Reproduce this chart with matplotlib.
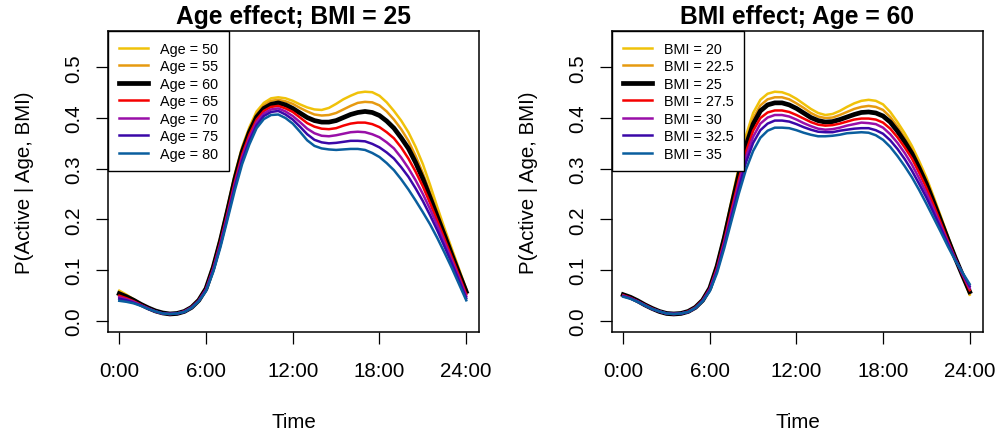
import matplotlib
matplotlib.use("Agg")
import matplotlib.pyplot as plt
import numpy as np

# ---- data, every half hour from 0:00 to 24:00 ----
hours = np.arange(0, 24.5, 0.5)

age_labels = ["Age = 50", "Age = 55", "Age = 60", "Age = 65", "Age = 70", "Age = 75", "Age = 80"]
age_50 = [0.059, 0.051, 0.042, 0.033, 0.025, 0.019, 0.015, 0.013, 0.014, 0.018, 0.027, 0.042,
          0.066, 0.110, 0.165, 0.226, 0.290, 0.343, 0.382, 0.413,
          0.430, 0.439, 0.441, 0.439, 0.434, 0.427, 0.421, 0.417, 0.416, 0.420, 0.428, 0.437,
          0.444, 0.450, 0.452, 0.451, 0.444, 0.431, 0.414, 0.395, 0.372, 0.343, 0.309, 0.268,
          0.224, 0.182, 0.142, 0.102, 0.062]
age_55 = [0.056, 0.049, 0.041, 0.033, 0.025, 0.019, 0.015, 0.013, 0.014, 0.018, 0.027, 0.041,
          0.065, 0.108, 0.162, 0.223, 0.286, 0.339, 0.378, 0.408,
          0.425, 0.434, 0.436, 0.433, 0.428, 0.420, 0.413, 0.407, 0.405, 0.406, 0.410, 0.417,
          0.424, 0.430, 0.432, 0.431, 0.425, 0.413, 0.397, 0.378, 0.355, 0.325, 0.291, 0.253,
          0.214, 0.175, 0.136, 0.098, 0.060]
age_60 = [0.053, 0.047, 0.040, 0.032, 0.025, 0.019, 0.015, 0.013, 0.014, 0.018, 0.026, 0.040,
          0.063, 0.105, 0.158, 0.218, 0.280, 0.333, 0.372, 0.402,
          0.419, 0.427, 0.430, 0.426, 0.419, 0.410, 0.401, 0.395, 0.392, 0.392, 0.395, 0.401,
          0.407, 0.411, 0.413, 0.411, 0.405, 0.394, 0.380, 0.361, 0.340, 0.312, 0.280, 0.243,
          0.205, 0.168, 0.130, 0.093, 0.057]
age_65 = [0.049, 0.044, 0.038, 0.031, 0.024, 0.018, 0.014, 0.013, 0.014, 0.018, 0.026, 0.040,
          0.062, 0.103, 0.155, 0.214, 0.275, 0.328, 0.367, 0.397,
          0.414, 0.422, 0.424, 0.419, 0.412, 0.401, 0.390, 0.383, 0.379, 0.378, 0.380, 0.385,
          0.389, 0.391, 0.391, 0.388, 0.382, 0.372, 0.360, 0.342, 0.320, 0.294, 0.265, 0.232,
          0.197, 0.161, 0.125, 0.089, 0.052]
age_70 = [0.046, 0.042, 0.037, 0.030, 0.024, 0.018, 0.014, 0.013, 0.014, 0.018, 0.026, 0.039,
          0.061, 0.101, 0.152, 0.210, 0.270, 0.322, 0.361, 0.392,
          0.409, 0.417, 0.419, 0.413, 0.404, 0.392, 0.379, 0.370, 0.365, 0.364, 0.366, 0.369,
          0.372, 0.373, 0.372, 0.368, 0.362, 0.352, 0.340, 0.322, 0.301, 0.277, 0.250, 0.220,
          0.188, 0.154, 0.119, 0.084, 0.048]
age_75 = [0.043, 0.040, 0.035, 0.030, 0.023, 0.018, 0.014, 0.013, 0.014, 0.017, 0.025, 0.039,
          0.060, 0.099, 0.149, 0.206, 0.265, 0.316, 0.355, 0.386,
          0.404, 0.412, 0.414, 0.407, 0.397, 0.383, 0.368, 0.357, 0.352, 0.350, 0.351, 0.353,
          0.355, 0.355, 0.354, 0.349, 0.342, 0.332, 0.320, 0.303, 0.284, 0.261, 0.236, 0.208,
          0.178, 0.146, 0.113, 0.079, 0.044]
age_80 = [0.039, 0.037, 0.034, 0.029, 0.023, 0.018, 0.014, 0.013, 0.014, 0.017, 0.025, 0.038,
          0.058, 0.096, 0.145, 0.201, 0.258, 0.309, 0.348, 0.380,
          0.398, 0.406, 0.407, 0.400, 0.389, 0.373, 0.356, 0.345, 0.340, 0.338, 0.337, 0.338,
          0.339, 0.339, 0.337, 0.331, 0.323, 0.311, 0.297, 0.279, 0.259, 0.237, 0.214, 0.190,
          0.163, 0.134, 0.104, 0.072, 0.040]

bmi_labels = ["BMI = 20", "BMI = 22.5", "BMI = 25", "BMI = 27.5", "BMI = 30", "BMI = 32.5", "BMI = 35"]
bmi_20 = [0.052, 0.046, 0.039, 0.031, 0.024, 0.018, 0.014, 0.013, 0.014, 0.018, 0.027, 0.042,
          0.066, 0.112, 0.170, 0.237, 0.302, 0.365, 0.410, 0.436,
          0.448, 0.452, 0.451, 0.446, 0.438, 0.428, 0.418, 0.410, 0.406, 0.408, 0.414, 0.422,
          0.429, 0.434, 0.436, 0.434, 0.427, 0.412, 0.392, 0.370, 0.345, 0.315, 0.283, 0.245,
          0.206, 0.166, 0.127, 0.089, 0.051]
bmi_225 = [0.052, 0.046, 0.039, 0.031, 0.024, 0.018, 0.014, 0.013, 0.014, 0.018, 0.027, 0.041,
           0.065, 0.110, 0.167, 0.232, 0.295, 0.355, 0.399, 0.425,
           0.437, 0.441, 0.441, 0.437, 0.429, 0.420, 0.410, 0.403, 0.400, 0.401, 0.406, 0.412,
           0.418, 0.422, 0.424, 0.422, 0.416, 0.402, 0.383, 0.361, 0.337, 0.308, 0.277, 0.240,
           0.202, 0.164, 0.126, 0.090, 0.053]
bmi_25 = [0.051, 0.046, 0.039, 0.031, 0.024, 0.018, 0.014, 0.013, 0.014, 0.018, 0.026, 0.040,
          0.064, 0.107, 0.163, 0.226, 0.287, 0.345, 0.388, 0.414,
          0.426, 0.430, 0.430, 0.426, 0.419, 0.410, 0.401, 0.395, 0.392, 0.393, 0.397, 0.402,
          0.407, 0.411, 0.412, 0.410, 0.404, 0.392, 0.374, 0.353, 0.330, 0.301, 0.270, 0.234,
          0.197, 0.160, 0.124, 0.090, 0.057]
bmi_275 = [0.050, 0.045, 0.038, 0.031, 0.024, 0.018, 0.014, 0.013, 0.014, 0.018, 0.026, 0.040,
           0.063, 0.104, 0.158, 0.219, 0.278, 0.333, 0.375, 0.400,
           0.411, 0.415, 0.415, 0.412, 0.406, 0.399, 0.392, 0.387, 0.385, 0.386, 0.389, 0.393,
           0.397, 0.399, 0.399, 0.397, 0.391, 0.379, 0.362, 0.342, 0.320, 0.292, 0.262, 0.228,
           0.193, 0.157, 0.123, 0.091, 0.060]
bmi_30 = [0.049, 0.044, 0.038, 0.030, 0.023, 0.018, 0.014, 0.013, 0.014, 0.017, 0.025, 0.039,
          0.062, 0.101, 0.154, 0.212, 0.270, 0.323, 0.363, 0.389,
          0.401, 0.406, 0.406, 0.403, 0.397, 0.390, 0.384, 0.379, 0.377, 0.378, 0.381, 0.385,
          0.388, 0.391, 0.390, 0.388, 0.381, 0.368, 0.351, 0.331, 0.308, 0.281, 0.252, 0.220,
          0.187, 0.154, 0.122, 0.092, 0.064]
bmi_325 = [0.048, 0.044, 0.037, 0.030, 0.023, 0.018, 0.014, 0.013, 0.014, 0.017, 0.025, 0.039,
           0.060, 0.098, 0.149, 0.205, 0.261, 0.312, 0.351, 0.376,
           0.389, 0.395, 0.395, 0.393, 0.388, 0.382, 0.377, 0.373, 0.372, 0.372, 0.375, 0.377,
           0.379, 0.380, 0.380, 0.376, 0.369, 0.356, 0.339, 0.319, 0.296, 0.270, 0.243, 0.213,
           0.182, 0.151, 0.121, 0.094, 0.068]
bmi_35 = [0.047, 0.043, 0.037, 0.030, 0.023, 0.018, 0.014, 0.013, 0.014, 0.017, 0.025, 0.038,
          0.058, 0.094, 0.143, 0.197, 0.250, 0.298, 0.335, 0.361,
          0.375, 0.381, 0.381, 0.380, 0.376, 0.371, 0.367, 0.364, 0.364, 0.365, 0.367, 0.370,
          0.371, 0.372, 0.371, 0.366, 0.357, 0.343, 0.325, 0.305, 0.283, 0.258, 0.231, 0.203,
          0.175, 0.146, 0.119, 0.095, 0.072]

age_series = [age_50, age_55, age_60, age_65, age_70, age_75, age_80]
bmi_series = [bmi_20, bmi_225, bmi_25, bmi_275, bmi_30, bmi_325, bmi_35]

x_ticks = [0, 6, 12, 18, 24]
x_ticklabels = ["0:00", "6:00", "12:00", "18:00", "24:00"]
y_ticks = [0.0, 0.1, 0.2, 0.3, 0.4, 0.5]

colors = ["#F0C20A", "#E69A10", "black", "#F50000", "#990FA8", "#3A08A8", "#0A5E9E"]
widths = [1.8, 1.8, 3.4, 1.8, 1.8, 1.8, 1.8]

plt.rcParams["font.family"] = ["Liberation Sans", "DejaVu Sans"]

fig = plt.figure(figsize=(9.98, 4.35), dpi=100)
ax1 = fig.add_axes([0.1085, 0.2352, 0.3717, 0.6913])
ax2 = fig.add_axes([0.6135, 0.2352, 0.3711, 0.6913])


def draw_panel(ax, series, labels, title):
    for vals, lab, col, lw in zip(series, labels, colors, widths):
        ax.plot(hours, vals, color=col, lw=lw, label=lab, solid_joinstyle="round")
    ax.set_xlim(-0.76, 24.9)
    ax.set_ylim(-0.022, 0.572)
    ax.set_xticks(x_ticks)
    ax.set_xticklabels(x_ticklabels)
    ax.set_yticks(y_ticks)
    ax.set_yticklabels([f"{v:.1f}" for v in y_ticks], rotation=90, va="center")
    ax.tick_params(axis="both", direction="out", length=8.5, width=0.9, labelsize=14.8)
    ax.tick_params(axis="x", pad=12.5)
    ax.tick_params(axis="y", pad=9.5)
    for sp in ax.spines.values():
        sp.set_linewidth(1.1)
    ax.set_xlabel("Time", fontsize=14.8, labelpad=23)
    ax.set_ylabel("P(Active | Age, BMI)", fontsize=14.8, labelpad=22)
    ax.set_title(title, fontsize=17.7, fontweight="bold", pad=6)
    leg = ax.legend(loc="upper left", borderaxespad=0, fancybox=False, fontsize=10.4,
                    handlelength=2.0, handletextpad=0.8, labelspacing=0.24, borderpad=0.75,
                    framealpha=1)
    leg.get_frame().set_edgecolor("black")
    leg.get_frame().set_linewidth(1.0)


draw_panel(ax1, age_series, age_labels, "Age effect; BMI = 25")
draw_panel(ax2, bmi_series, bmi_labels, "BMI effect; Age = 60")

fig.savefig("out.png", dpi=100)
